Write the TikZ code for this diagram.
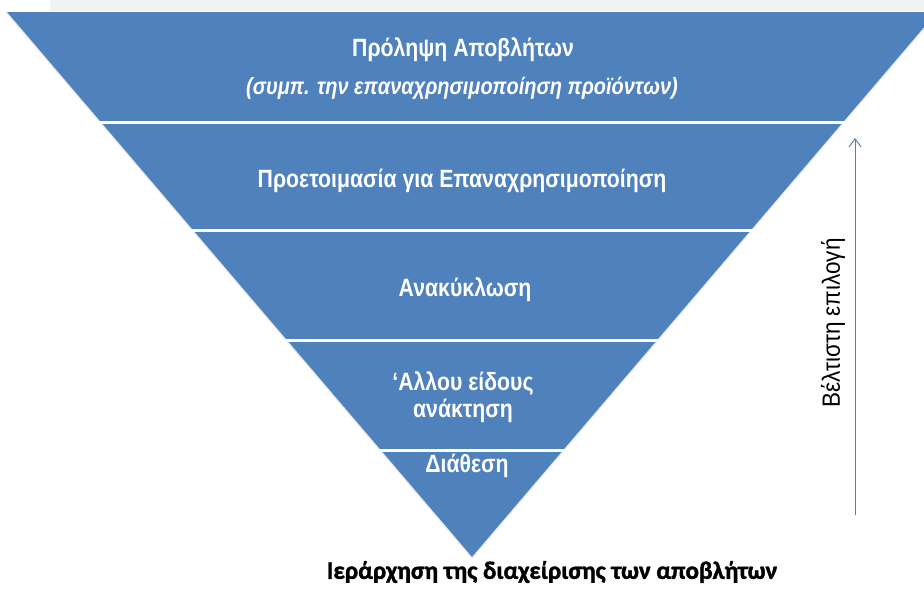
\documentclass[tikz,border=0pt]{standalone}
\usepackage{fontspec}
\setmainfont{Liberation Sans}
\newfontfamily\tierfont[FakeStretch=0.85]{Liberation Sans}
\newfontfamily\sidefont[FakeStretch=0.9]{Liberation Sans}
\newfontfamily\capfont[BoldFeatures={FakeBold=1.5}]{Carlito}
\usetikzlibrary{arrows.meta}
\definecolor{tierblue}{HTML}{4F81BD}
\definecolor{arrowgray}{HTML}{5E7E9E}
\tikzset{
  tier/.style={text=white,font=\tierfont\bfseries\fontsize{25}{27}\selectfont,align=center},
  sep/.style={white,line width=3pt},
  up/.style={arrowgray,line width=1pt,-{Straight Barb[length=8pt,width=12pt]}}
}
\begin{document}
\begin{tikzpicture}[x=1pt,y=-1pt]
	\useasboundingbox (0,0) rectangle (924,592);
	\clip (0,0) rectangle (924,592);
	\fill[gray!10] (50,0) rectangle (924,11);
	\coordinate (tl) at (6,12);
	\coordinate (tr) at (938,12);
	\coordinate (apex) at (472,558);
	\fill[tierblue] (tl)--(tr)--(apex)--cycle;
	\draw[white!85!gray,line width=1.2pt] (tl)--(apex)--(tr);
	\foreach \y in {122,230,340,450}
		\draw[sep] ({472-0.853*(558-\y)},\y)--({472+0.853*(558-\y)},\y);
	\node[tier] (prevent) at (463,50) {Πρόληψη Αποβλήτων};
	\node[tier,font=\tierfont\bfseries\itshape\fontsize{23.5}{27}\selectfont] (reuse) at (462,88) {(συμπ. την επαναχρησιμοποίηση προϊόντων)};
	\node[tier] (prepare) at (462,181) {Προετοιμασία για Επαναχρησιμοποίηση};
	\node[tier] (recycle) at (465,290) {Ανακύκλωση};
	\node[tier] (recover) at (463,397) {‘Αλλου είδους\\ανάκτηση};
	\node[tier] (dispose) at (467,466) {Διάθεση};
	\node[font=\capfont\bfseries\fontsize{25}{28}\selectfont] (caption) at (552,572) {Ιεράρχηση της διαχείρισης των αποβλήτων};
	\coordinate (low) at (855,515);
	\coordinate (high) at (855,138);
	\draw[up] (low)--(high);
	\node[rotate=90,font=\sidefont\fontsize{25}{28}\selectfont] (best) at (833,323) {Βέλτιστη επιλογή};
\end{tikzpicture}
\end{document}
